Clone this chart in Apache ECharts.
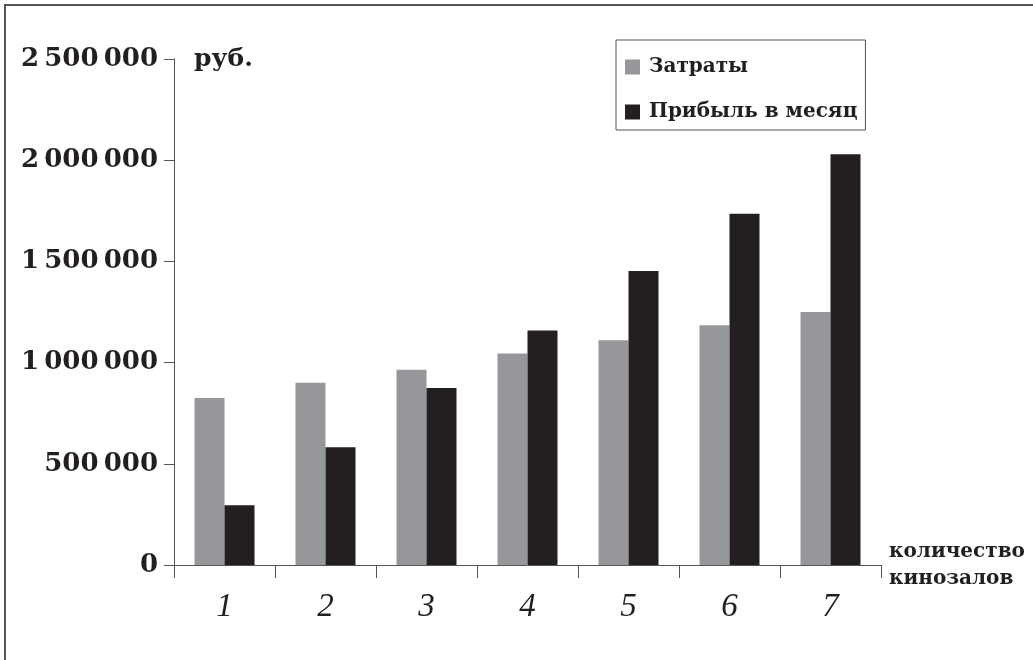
<!DOCTYPE html>
<html>
<head>
<meta charset="utf-8">
<script src="https://cdn.jsdelivr.net/npm/echarts@6/dist/echarts.min.js"></script>
<style>
html,body{margin:0;padding:0;background:#fff;}
#chart{width:1033px;height:660px;}
</style>
</head>
<body>
<div id="chart"></div>
<script>
const categories = ['1', '2', '3', '4', '5', '6', '7'];
const costs = [825000, 900000, 965000, 1045000, 1110000, 1185000, 1250000];
const profit = [295000, 582000, 874000, 1158000, 1452000, 1736000, 2030000];
const seriesNames = ['Затраты', 'Прибыль в месяц'];
const yUnit = 'руб.';
const xName = 'количество\nкинозалов';

const chart = echarts.init(document.getElementById('chart'));
const serif = '"DejaVu Serif", "Liberation Serif", serif';
const ink = '#231f20';
const axisCol = '#555';

function fmt(v) {
  return String(v).replace(/\B(?=(\d{3})+(?!\d))/g, '\u2009');
}

chart.setOption({
  animation: false,
  backgroundColor: '#fff',
  graphic: [
    { type: 'line', shape: { x1: 4, y1: 5, x2: 1033, y2: 5 }, style: { stroke: axisCol, lineWidth: 2 } },
    { type: 'line', shape: { x1: 5, y1: 4, x2: 5, y2: 660 }, style: { stroke: axisCol, lineWidth: 2 } }
  ],
  legend: {
    orient: 'vertical',
    left: 616,
    top: 40,
    icon: 'rect',
    itemWidth: 15,
    itemHeight: 15,
    itemGap: 21,
    padding: [15, 8, 6, 9],
    borderColor: axisCol,
    borderWidth: 1,
    textStyle: { fontFamily: serif, fontWeight: 'bold', fontSize: 20, color: ink, lineHeight: 24, padding: [0, 0, 0, 4] },
    data: seriesNames
  },
  grid: { left: 174, right: 152, top: 59, bottom: 95, containLabel: false },
  xAxis: {
    type: 'category',
    data: categories,
    name: xName,
    nameLocation: 'end',
    nameGap: 8,
    nameTextStyle: { fontFamily: serif, fontWeight: 'bold', fontSize: 20, color: ink, lineHeight: 27, align: 'left', verticalAlign: 'middle' },
    axisLine: { lineStyle: { color: axisCol, width: 1 } },
    axisTick: { show: true, length: 13, alignWithLabel: false, lineStyle: { color: axisCol } },
    axisLabel: { fontFamily: '"Liberation Serif", serif', fontStyle: 'italic', fontSize: 33, color: ink, margin: 26 }
  },
  yAxis: {
    type: 'value',
    min: 0,
    max: 2500000,
    interval: 500000,
    name: yUnit,
    nameLocation: 'end',
    nameGap: 0,
    nameTextStyle: { fontFamily: serif, fontWeight: 'bold', fontSize: 25, color: ink, align: 'left', verticalAlign: 'middle', padding: [0, 0, 0, 20] },
    axisLine: { show: true, lineStyle: { color: axisCol, width: 1 } },
    axisTick: { show: true, inside: false, length: 10, lineStyle: { color: axisCol } },
    splitLine: { show: false },
    axisLabel: { fontFamily: serif, fontWeight: 'bold', fontSize: 26, color: ink, margin: 16, verticalAlign: 'middle', padding: [0, 0, 4, 0], formatter: fmt }
  },
  series: [
    { name: seriesNames[0], type: 'bar', data: costs, barWidth: 30, barGap: '0%', itemStyle: { color: '#96979b' } },
    { name: seriesNames[1], type: 'bar', data: profit, barWidth: 30, barGap: '0%', itemStyle: { color: ink } }
  ]
});
</script>
</body>
</html>
